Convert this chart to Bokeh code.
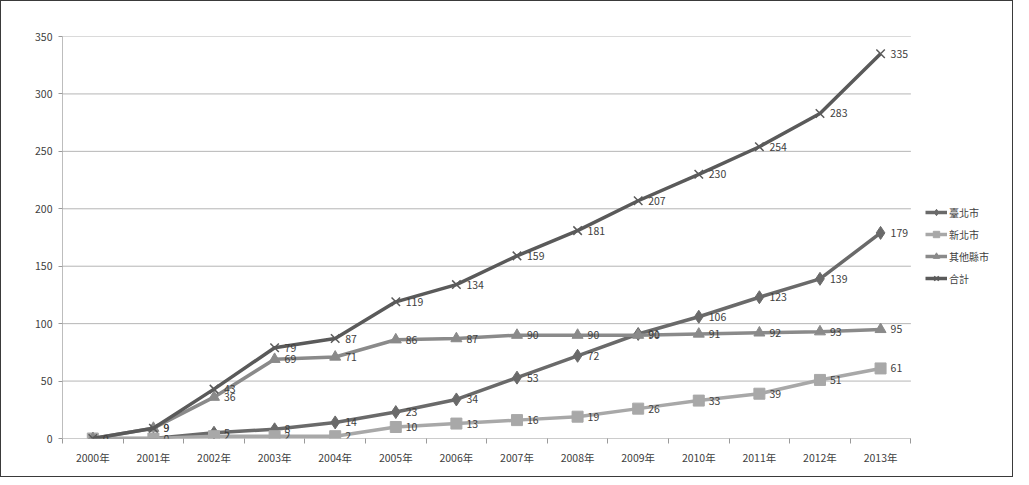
from bokeh.plotting import figure
from bokeh.models import Range1d, FixedTicker, Legend, LegendItem, ColumnDataSource
from bokeh.core.properties import value
from bokeh.embed import file_html
from bokeh.resources import INLINE

years = ["2000年", "2001年", "2002年", "2003年", "2004年", "2005年", "2006年",
         "2007年", "2008年", "2009年", "2010年", "2011年", "2012年", "2013年"]
taipei = [0, 0, 5, 8, 14, 23, 34, 53, 72, 91, 106, 123, 139, 179]
newtaipei = [0, 0, 2, 2, 2, 10, 13, 16, 19, 26, 33, 39, 51, 61]
others = [0, 9, 36, 69, 71, 86, 87, 90, 90, 90, 91, 92, 93, 95]
total = [0, 9, 43, 79, 87, 119, 134, 159, 181, 207, 230, 254, 283, 335]
y_ticks = [0, 50, 100, 150, 200, 250, 300, 350]

FONT = "Noto Sans CJK TC"
xs = list(range(len(years)))
x_lo, x_hi = -0.5, len(years) - 0.5

p = figure(width=1013, height=477, output_backend="svg", toolbar_location=None,
           x_range=Range1d(x_lo, 15.21), y_range=Range1d(0, 350),
           min_border_left=61, min_border_right=0, min_border_top=35, min_border_bottom=40)
p.styles = {"border": "1px solid #3a3a3a", "box-sizing": "border-box"}
p.outline_line_color = None
p.background_fill_color = "white"

# axes
p.xaxis.ticker = FixedTicker(ticks=xs, minor_ticks=[i - 0.5 for i in range(len(years) + 1)])
p.xaxis.major_label_overrides = {i: y for i, y in enumerate(years)}
p.xaxis.major_tick_line_color = None
p.xaxis.minor_tick_in = 0
p.xaxis.minor_tick_out = 5
p.xaxis.minor_tick_line_color = "#9a9a9a"
p.xaxis.axis_line_color = None
p.xaxis.major_label_text_font = FONT
p.xaxis.major_label_text_font_size = "10.5px"
p.xaxis.major_label_text_color = "#404040"
p.xaxis.major_label_standoff = 5

p.yaxis.ticker = FixedTicker(ticks=y_ticks)
p.yaxis.minor_tick_line_color = None
p.yaxis.major_tick_in = 0
p.yaxis.major_tick_out = 4
p.yaxis.major_tick_line_color = "#9a9a9a"
p.yaxis.axis_line_color = "#bdbdbd"
p.yaxis.major_label_text_font = FONT
p.yaxis.major_label_text_font_size = "10.5px"
p.yaxis.major_label_text_color = "#404040"
p.yaxis.major_label_standoff = 6

p.xgrid.grid_line_color = None
p.ygrid.grid_line_color = None

# horizontal gridlines limited to the category area
grid_y = y_ticks[1:]
p.segment(x0=[x_lo] * len(grid_y), x1=[x_hi] * len(grid_y), y0=grid_y, y1=grid_y,
          line_color="#b5b5b5", line_width=1)
# category axis baseline
p.segment(x0=[x_lo], x1=[x_hi], y0=[y_ticks[0]], y1=[y_ticks[0]],
          line_color="#9a9a9a", line_width=1)

series = [
    ("臺北市", taipei, "#6a6a6a", "diamond", 13),
    ("新北市", newtaipei, "#a8a8a8", "square", 11),
    ("其他縣市", others, "#8a8a8a", "triangle", 11),
    ("合計", total, "#5a5a5a", "x", 12),
]

items = []
for name, vals, color, marker, size in series:
    src = ColumnDataSource(dict(x=xs, y=vals, t=[str(v) for v in vals]))
    r1 = p.line("x", "y", source=src, line_color=color, line_width=3.5)
    if marker == "x":
        r2 = p.scatter("x", "y", source=src, marker="x", size=size, line_color=color, line_width=1.5)
    else:
        r2 = p.scatter("x", "y", source=src, marker=marker, size=size, fill_color=color, line_color=color)
    p.text("x", "y", text="t", source=src, x_offset=10, text_baseline="middle",
           text_font=value(FONT), text_font_size="10.5px", text_color="#404040")
    items.append(LegendItem(label=name, renderers=[r1, r2]))

legend = Legend(items=items, location=(863, 152), orientation="vertical",
                label_text_font=FONT, label_text_font_size="10px", label_text_color="#404040",
                glyph_width=22, glyph_height=16, label_height=16, label_standoff=2,
                spacing=6, padding=0, margin=0, border_line_color=None,
                background_fill_alpha=0)
p.add_layout(legend, "center")

open("out.html", "w").write(file_html(p, INLINE))
